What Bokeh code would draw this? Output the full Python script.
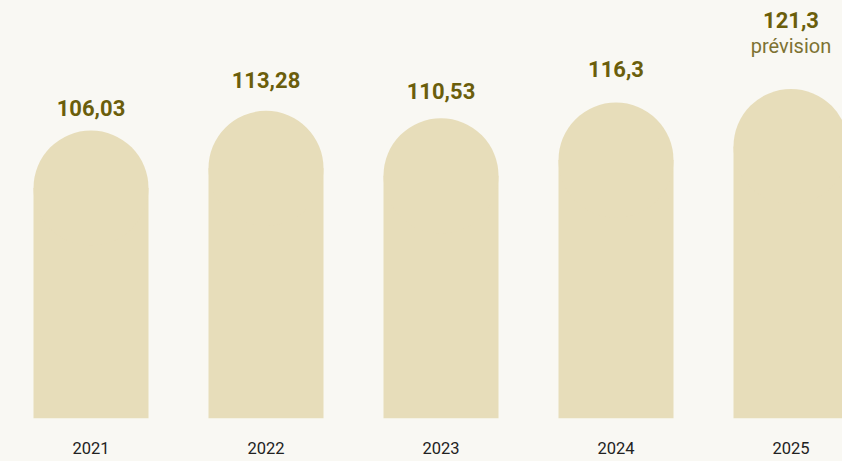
from bokeh.plotting import figure
from bokeh.models import Range1d, ColumnDataSource, LinearAxis, FixedTicker
from bokeh.embed import file_html
from bokeh.resources import INLINE
from bokeh.core.properties import value

# ---- data ----
years = ["2021", "2022", "2023", "2024", "2025"]
values = [106.03, 113.28, 110.53, 116.3, 121.3]
value_labels = ["106,03", "113,28", "110,53", "116,3", "121,3"]
notes = ["", "", "", "", "prévision"]

# ---- style ----
BG = "#f9f8f3"
BAR = "#e7ddba"
VAL = "#6b5e0b"
NOTE = "#7d7232"
YEAR = "#222222"

W = 842
FRAME_H = 418
BOTTOM = 43
H = FRAME_H + BOTTOM
SPACING_PX = 175.0
x_start = -90.5 / SPACING_PX
x_end = x_start + W / SPACING_PX
y_end = FRAME_H * 106.03 / 288.0
px_y = FRAME_H / y_end
R = 57.5
bw = 2 * R / SPACING_PX
eh = 2 * R / px_y

# label placement (screen px above the baseline of the chart)
LBL_SLOPE, LBL_BASE, LBL_CORR = 3.805, -100.6, 8.0


def label_y(v):
    return (LBL_SLOPE * v + LBL_BASE + LBL_CORR) / px_y


xs = list(range(len(years)))
src = ColumnDataSource(dict(
    x=xs,
    v=values,
    top=[v - R / px_y for v in values],
    ly=[label_y(v) for v in values],
    lab=value_labels,
    off=[0 if not n else -30 for n in notes],
))
nidx = [i for i, n in enumerate(notes) if n]
nsrc = ColumnDataSource(dict(
    x=[xs[i] for i in nidx],
    ly=[label_y(values[i]) for i in nidx],
    note=[notes[i] for i in nidx],
))

p = figure(width=W, height=H, output_backend="svg", toolbar_location=None,
           x_range=Range1d(x_start, x_end), y_range=Range1d(0, y_end),
           min_border_left=0, min_border_right=0, min_border_top=0,
           min_border_bottom=BOTTOM,
           background_fill_color=BG, border_fill_color=BG,
           outline_line_color=None,
           x_axis_location=None, y_axis_location=None)
p.grid.visible = False

p.vbar(x="x", top="top", bottom=0, width=bw, fill_color=BAR, line_color=None, source=src)
p.ellipse(x="x", y="top", width=bw, height=eh, fill_color=BAR, line_color=None, source=src)

p.text(x="x", y="ly", text="lab", y_offset="off", text_align="center",
       text_baseline="alphabetic", text_font=value("Roboto"),
       text_font_style="bold", text_font_size="22px", text_color=VAL, source=src)
p.text(x="x", y="ly", text="note", y_offset=-4, text_align="center",
       text_baseline="alphabetic", text_font=value("Roboto"),
       text_font_size="20px", text_color=NOTE, source=nsrc)

ax = LinearAxis(ticker=FixedTicker(ticks=xs),
                major_label_overrides={i: y for i, y in zip(xs, years)},
                axis_line_color=None, major_tick_line_color=None,
                minor_tick_line_color=None, major_tick_in=0, major_tick_out=0,
                major_label_standoff=23, major_label_text_font="Roboto",
                major_label_text_font_size="16.5px",
                major_label_text_color=YEAR)
p.add_layout(ax, "below")

html = file_html(p, INLINE)
html = html.replace("<head>", "<head><style>html,body{background:%s;overflow:hidden;}</style>" % BG, 1)
open("out.html", "w").write(html)
